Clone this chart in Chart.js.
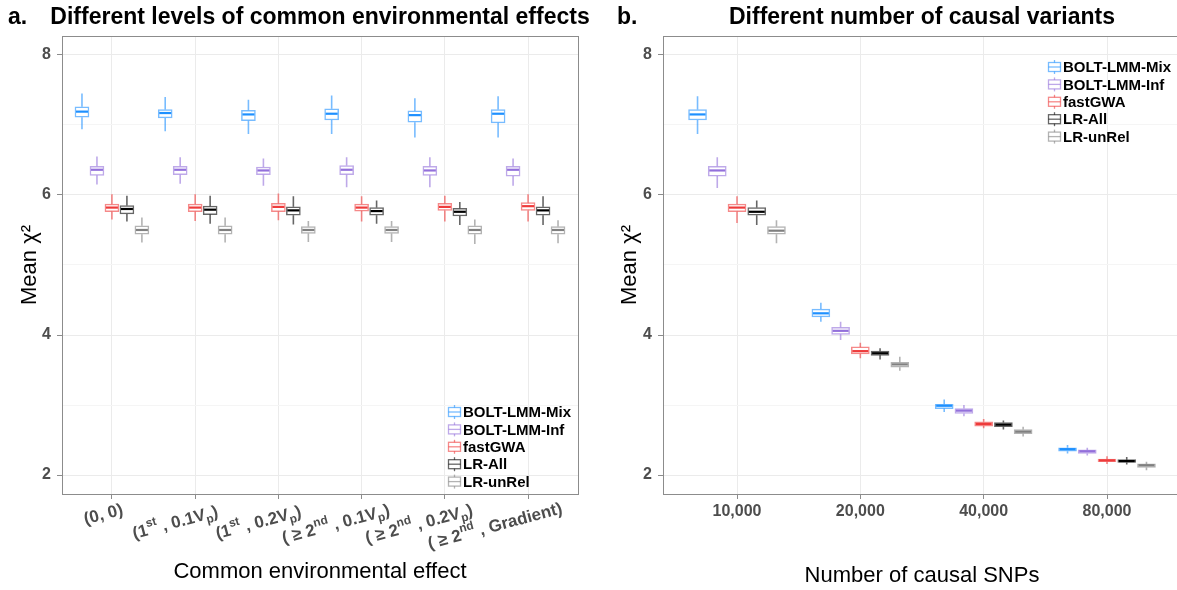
<!DOCTYPE html>
<html>
<head>
<meta charset="utf-8">
<script src="https://cdn.jsdelivr.net/npm/chart.js@4.4.1/dist/chart.umd.min.js"></script>
<style>
  body { margin: 0; background: #fff; }
  #wrap { position: relative; width: 1177px; height: 590px; overflow: hidden; }
  #boxA { position: absolute; left: 0; top: 0; width: 600px; height: 590px; }
  #boxB { position: absolute; left: 600px; top: 0; width: 577px; height: 590px; overflow: hidden; }
</style>
</head>
<body>
<div id="wrap">
  <div id="boxA"><canvas id="chartA" width="600" height="590"></canvas></div>
  <div id="boxB"><canvas id="chartB" width="590" height="590"></canvas></div>
</div>
<script>
const methods = ['BOLT-LMM-Mix', 'BOLT-LMM-Inf', 'fastGWA', 'LR-All', 'LR-unRel'];
const methodColors = ['#1E90FF', '#9370DB', '#EE3B3B', '#000000', '#808080'];

const envLabels = ['(0, 0)', '(1^{st} , 0.1V_{p})', '(1^{st} , 0.2V_{p})',
  '( ≥ 2^{nd} , 0.1V_{p})', '( ≥ 2^{nd} , 0.2V_{p})', '( ≥ 2^{nd} , Gradient)'];
const snpLabels = ['10,000', '20,000', '40,000', '80,000'];
const yTicks = [2, 3, 4, 5, 6, 7, 8];

// each row: [lower whisker, Q1, median, Q3, upper whisker]
const mixEnv = [[6.94, 7.11, 7.19, 7.26, 7.45], [6.91, 7.10, 7.17, 7.22, 7.40], [6.87, 7.06, 7.15, 7.21, 7.36],
  [6.87, 7.07, 7.16, 7.23, 7.42], [6.82, 7.04, 7.14, 7.20, 7.38], [6.82, 7.03, 7.16, 7.22, 7.41]];
const infEnv = [[6.15, 6.28, 6.36, 6.41, 6.55], [6.16, 6.29, 6.36, 6.41, 6.54], [6.13, 6.29, 6.35, 6.40, 6.52],
  [6.11, 6.29, 6.36, 6.42, 6.54], [6.11, 6.28, 6.35, 6.41, 6.54], [6.13, 6.27, 6.36, 6.41, 6.52]];
const fastEnv = [[5.65, 5.76, 5.82, 5.87, 6.01], [5.63, 5.76, 5.82, 5.87, 6.01], [5.64, 5.76, 5.83, 5.88, 6.02],
  [5.62, 5.77, 5.82, 5.87, 5.98], [5.62, 5.78, 5.83, 5.88, 5.99], [5.62, 5.78, 5.84, 5.89, 6.01]];
const allEnv = [[5.62, 5.73, 5.80, 5.85, 5.99], [5.59, 5.72, 5.79, 5.84, 5.99], [5.58, 5.71, 5.78, 5.83, 5.98],
  [5.59, 5.71, 5.77, 5.82, 5.92], [5.57, 5.70, 5.76, 5.81, 5.90], [5.57, 5.71, 5.78, 5.83, 5.98]];
const unrelEnv = [[5.32, 5.44, 5.50, 5.56, 5.68], [5.32, 5.44, 5.50, 5.56, 5.68], [5.33, 5.45, 5.50, 5.55, 5.63],
  [5.33, 5.45, 5.50, 5.55, 5.63], [5.30, 5.44, 5.50, 5.56, 5.65], [5.31, 5.44, 5.50, 5.55, 5.64]];

const mixSnp = [[6.87, 7.07, 7.15, 7.22, 7.41], [4.19, 4.26, 4.31, 4.37, 4.46], [2.90, 2.95, 2.99, 3.01, 3.08], [2.31, 2.34, 2.37, 2.39, 2.43]];
const infSnp = [[6.10, 6.27, 6.35, 6.41, 6.54], [3.93, 4.01, 4.06, 4.11, 4.19], [2.84, 2.88, 2.92, 2.95, 3.00], [2.28, 2.31, 2.34, 2.36, 2.39]];
const fastSnp = [[5.60, 5.76, 5.82, 5.87, 5.98], [3.67, 3.73, 3.77, 3.83, 3.89], [2.67, 2.70, 2.73, 2.76, 2.80], [2.16, 2.19, 2.21, 2.23, 2.27]];
const allSnp = [[5.57, 5.71, 5.76, 5.82, 5.92], [3.65, 3.71, 3.74, 3.77, 3.81], [2.65, 2.69, 2.72, 2.75, 2.78], [2.15, 2.18, 2.20, 2.22, 2.26]];
const unrelSnp = [[5.31, 5.44, 5.49, 5.55, 5.64], [3.49, 3.54, 3.58, 3.61, 3.69], [2.55, 2.59, 2.62, 2.65, 2.69], [2.07, 2.11, 2.14, 2.16, 2.19]];

Chart.defaults.font.family = '"Liberation Sans", Arial, sans-serif';
const FONT = '"Liberation Sans", Arial, sans-serif';
const TICK_GREY = '#4d4d4d';
const LINE_GREY = '#8c8c8c';

function fade(hex, a) {
    const n = parseInt(hex.slice(1), 16);
    return `rgba(${n >> 16},${(n >> 8) & 255},${n & 255},${a})`;
}

// whiskers under the boxes, medians on top, via the chart's own scales
const boxParts = {
    id: 'boxParts',
    beforeDatasetsDraw(chart) {
        const ctx = chart.ctx, y = chart.scales.y;
        chart.data.datasets.forEach((ds, i) => {
            chart.getDatasetMeta(i).data.forEach((bar, j) => {
                const s = ds.data[j].stats;
                ctx.save();
                ctx.strokeStyle = fade(ds.color, 0.6);
                ctx.lineWidth = 1.6;
                ctx.beginPath();
                ctx.moveTo(bar.x, y.getPixelForValue(s[4]));
                ctx.lineTo(bar.x, y.getPixelForValue(s[3]));
                ctx.moveTo(bar.x, y.getPixelForValue(s[1]));
                ctx.lineTo(bar.x, y.getPixelForValue(s[0]));
                ctx.stroke();
                ctx.restore();
            });
        });
    },
    afterDatasetsDraw(chart) {
        const ctx = chart.ctx, y = chart.scales.y;
        chart.data.datasets.forEach((ds, i) => {
            chart.getDatasetMeta(i).data.forEach((bar, j) => {
                const s = ds.data[j].stats;
                const py = y.getPixelForValue(s[2]);
                ctx.save();
                ctx.strokeStyle = ds.color;
                ctx.lineWidth = 2.2;
                ctx.beginPath();
                ctx.moveTo(bar.x - bar.width / 2 + 1, py);
                ctx.lineTo(bar.x + bar.width / 2 - 1, py);
                ctx.stroke();
                ctx.restore();
            });
        });
        // panel frame
        const a = chart.chartArea;
        ctx.save();
        ctx.strokeStyle = LINE_GREY;
        ctx.lineWidth = 1;
        ctx.strokeRect(Math.round(a.left) + 0.5, Math.round(a.top) + 0.5, Math.round(a.right - a.left), Math.round(a.bottom - a.top));
        ctx.restore();
    }
};

const panelText = {
    id: 'panelText',
    afterDraw(chart) {
        const ctx = chart.ctx, a = chart.chartArea, o = chart.options.plugins.panelText;
        ctx.save();
        ctx.fillStyle = '#000';
        ctx.textBaseline = 'middle';
        ctx.font = `bold 23px ${FONT}`;
        ctx.textAlign = 'left';
        ctx.fillText(o.tag, o.tagX, 18);
        ctx.textAlign = 'center';
        ctx.fillText(o.title, (a.left + a.right) / 2, 18);

        // legend
        const lx = a.right + o.legend.dx;
        const ly = (o.legend.fromBottom ? a.bottom : a.top) + o.legend.dy;
        ctx.font = `bold 15px ${FONT}`;
        ctx.textAlign = 'left';
        chart.data.datasets.forEach((ds, i) => {
            const cy = ly + i * 17.4;
            ctx.strokeStyle = fade(ds.color, 0.6);
            ctx.lineWidth = 1.3;
            ctx.beginPath();
            ctx.moveTo(lx + 6.5, cy - 7);
            ctx.lineTo(lx + 6.5, cy + 7);
            ctx.stroke();
            ctx.fillStyle = '#fff';
            ctx.fillRect(lx + 0.5, cy - 4.5, 12, 9);
            ctx.strokeRect(lx + 0.5, cy - 4.5, 12, 9);
            ctx.beginPath();
            ctx.moveTo(lx + 0.5, cy);
            ctx.lineTo(lx + 12.5, cy);
            ctx.stroke();
            ctx.fillStyle = '#000';
            ctx.fillText(ds.label, lx + 15, cy + 1);
        });

        // rotated rich tick labels (panel a)
        if (o.richTicks) {
            const xs = chart.scales.x;
            o.richTicks.forEach((lab, i) => {
                const parts = [];
                lab.replace(/\^\{([^}]*)\}|_\{([^}]*)\}|([^^_]+)/g, (m, sup, sub, txt) => {
                    if (sup) parts.push({ t: sup, size: 12, dy: -8 });
                    else if (sub) parts.push({ t: sub, size: 12, dy: 4 });
                    else parts.push({ t: txt, size: 17, dy: 0 });
                    return m;
                });
                let w = 0;
                parts.forEach(p => { ctx.font = `bold ${p.size}px ${FONT}`; p.w = ctx.measureText(p.t).width; w += p.w; });
                const hasSup = lab.includes('^');
                ctx.save();
                ctx.translate(xs.getPixelForValue(i + 1), a.bottom + 11);
                ctx.rotate(-15 * Math.PI / 180);
                ctx.fillStyle = TICK_GREY;
                ctx.textBaseline = 'alphabetic';
                let u = -0.77 * w;
                const base = hasSup ? 17 : 12;
                parts.forEach(p => {
                    ctx.font = `bold ${p.size}px ${FONT}`;
                    ctx.fillText(p.t, u, base + p.dy);
                    u += p.w;
                });
                ctx.restore();
            });
        }
        ctx.restore();
    }
};

function boxDatasets(series, offsets, thickness) {
    return series.map((rows, m) => ({
        label: methods[m],
        color: methodColors[m],
        data: rows.map((r, i) => ({ x: i + 1 + offsets[m], y: [r[1], r[3]], stats: r })),
        backgroundColor: '#ffffff',
        borderColor: fade(methodColors[m], 0.6),
        borderWidth: 1.5,
        borderSkipped: false,
        barThickness: thickness,
        grouped: false
    }));
}

function makePanel(id, cfg) {
    const cats = cfg.labels.map((l, i) => i + 1);
    return new Chart(document.getElementById(id), {
        type: 'bar',
        data: { datasets: boxDatasets(cfg.series, cfg.offsets, cfg.thickness) },
        options: {
            responsive: false,
            animation: false,
            events: [],
            layout: { padding: { left: 0, top: 36, right: cfg.padRight, bottom: 0 } },
            plugins: {
                legend: { display: false },
                tooltip: { enabled: false },
                panelText: cfg.text
            },
            scales: {
                x: {
                    type: 'linear',
                    offset: false,
                    min: 0.4,
                    max: cats.length + 0.6,
                    afterBuildTicks: (s) => { s.ticks = cats.map(v => ({ value: v })); },
                    afterFit: (s) => { s.height = 96; },
                    grid: { offset: false, color: '#ebebeb', tickColor: LINE_GREY, tickLength: 5 },
                    border: { display: false },
                    ticks: {
                        display: cfg.plainTicks,
                        padding: 3,
                        color: TICK_GREY,
                        font: { size: 16, weight: 'bold' },
                        maxRotation: 0,
                        callback: (v) => cfg.labels[v - 1]
                    },
                    title: {
                        display: true,
                        text: cfg.xTitle,
                        color: '#000',
                        font: { size: 22 },
                        padding: { top: 0, bottom: cfg.titlePad }
                    }
                },
                y: {
                    min: 1.73,
                    max: 8.27,
                    afterBuildTicks: (s) => { s.ticks = yTicks.map(v => ({ value: v })); },
                    afterFit: (s) => { s.width = cfg.yWidth; },
                    grid: {
                        color: (c) => (c.tick && c.tick.value % 2 === 0) ? '#ebebeb' : '#f5f5f5',
                        tickColor: (c) => (c.tick && c.tick.value % 2 === 0) ? LINE_GREY : 'rgba(0,0,0,0)',
                        tickLength: 5
                    },
                    border: { display: false },
                    ticks: {
                        padding: 6,
                        color: TICK_GREY,
                        font: { size: 16, weight: 'bold' },
                        callback: (v) => v % 2 === 0 ? String(v) : ''
                    },
                    title: {
                        display: true,
                        text: 'Mean χ²',
                        color: '#000',
                        font: { size: 22 },
                        padding: { top: 17, bottom: 0 }
                    }
                }
            }
        },
        plugins: [boxParts, panelText]
    });
}

makePanel('chartA', {
    labels: envLabels,
    series: [mixEnv, infEnv, fastEnv, allEnv, unrelEnv],
    offsets: [-0.36, -0.18, 0, 0.18, 0.36],
    thickness: 14,
    padRight: 22,
    yWidth: 62,
    plainTicks: false,
    xTitle: 'Common environmental effect',
    titlePad: 5,
    text: {
        tag: 'a.', tagX: 8,
        title: 'Different levels of common environmental effects',
        legend: { fromBottom: true, dx: -130, dy: -82 },
        richTicks: envLabels
    }
});

makePanel('chartB', {
    labels: snpLabels,
    series: [mixSnp, infSnp, fastSnp, allSnp, unrelSnp],
    offsets: [-0.32, -0.16, 0, 0.16, 0.32],
    thickness: 18,
    padRight: 9,
    yWidth: 63,
    plainTicks: true,
    xTitle: 'Number of causal SNPs',
    titlePad: 1,
    text: {
        tag: 'b.', tagX: 17,
        title: 'Different number of causal variants',
        legend: { fromBottom: false, dx: -133, dy: 31 },
        richTicks: null
    }
});
</script>
</body>
</html>
